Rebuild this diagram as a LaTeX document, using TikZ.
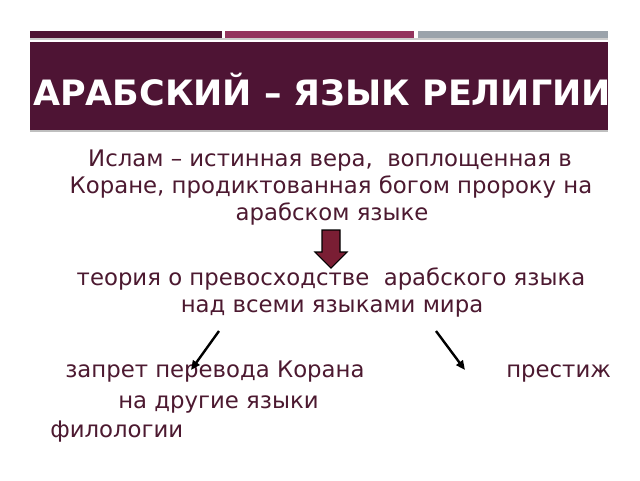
\documentclass[tikz,border=0pt]{standalone}
\usepackage{fontspec}
\setmainfont{DejaVu Sans}
\usetikzlibrary{arrows.meta}
\definecolor{plum}{RGB}{78,20,52}
\definecolor{rose}{RGB}{147,52,94}
\definecolor{slate}{RGB}{155,163,171}
\definecolor{ink}{RGB}{76,25,48}
\definecolor{wine}{RGB}{122,30,52}
\tikzset{
  body/.style={text=ink, inner sep=0pt, align=center, font=\fontsize{17.1}{20.25}\selectfont},
  thin arrow/.style={-{Triangle[length=7pt,width=6pt]}, line width=1.8pt, black}
}
\begin{document}
\begin{tikzpicture}[x=0.75pt,y=0.75pt,yscale=-1]
\useasboundingbox (0,0) rectangle (640,480);

%Shape: Bars
\fill [plum]  (30,31) rectangle (222,38);
\fill [rose]  (225,31) rectangle (414,38);
\fill [slate] (418,31) rectangle (608,38);
\fill [black!20] (30,38) rectangle (608,39.5);
%Shape: Banner
\fill [plum] (30,42) rectangle (608,130);
\fill [black!25] (30,130) rectangle (608,132);

% Text Node
\node [text=white, inner sep=0pt, anchor=base, font=\fontsize{26.2}{30}\selectfont\bfseries] (title) at (322,105) {АРАБСКИЙ – ЯЗЫК РЕЛИГИИ};

% Text Node
\node [body, anchor=base] (islam1) at (330,166) {Ислам – истинная вера,\ \ воплощенная в};
\node [body, anchor=base] (islam2) at (331,193) {Коране, продиктованная богом пророку на};
\node [body, anchor=base] (islam3) at (332,220) {арабском языке};

%Shape: Block Arrow
\draw [fill=wine, line width=0.8pt] (322,230) -- (340,230) -- (340,252) -- (347,252) -- (331,268) -- (315,252) -- (322,252) -- cycle;

% Text Node
\node [body, anchor=base] (theory1) at (331,285) {теория о превосходстве\ \ арабского языка};
\node [body, anchor=base] (theory2) at (332,312) {над всеми языками мира};

% Text Node
\node [body, anchor=base west] (ban) at (65,377) {запрет перевода Корана};
\node [body, anchor=base west] (ban2) at (118,408) {на другие языки};
\node [body, anchor=base west] (prestige) at (506,377) {престиж};
\node [body, anchor=base west] (philology) at (50,437) {филологии};

%Straight Lines
\coordinate (lfrom) at (219,331);
\coordinate (lto) at (191,370);
\coordinate (rfrom) at (436,331);
\coordinate (rto) at (465,370);
\draw [thin arrow] (lfrom) -- (lto);
\draw [thin arrow] (rfrom) -- (rto);

\end{tikzpicture}
\end{document}
